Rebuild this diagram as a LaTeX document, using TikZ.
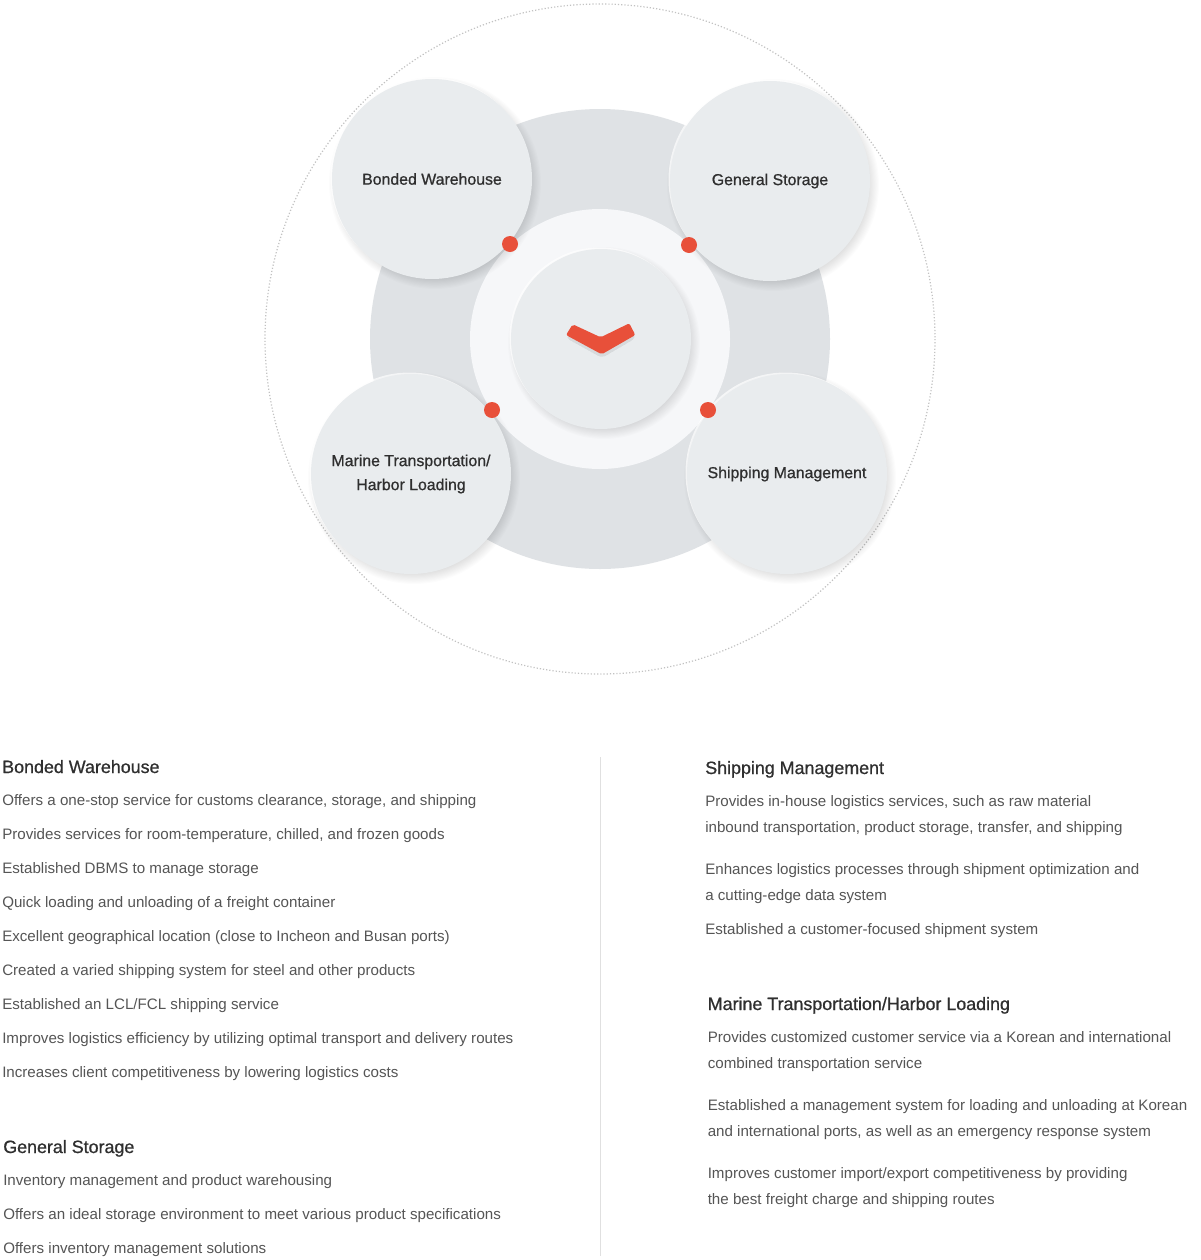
\documentclass[tikz,border=0pt]{standalone}
\usepackage{fontspec}
\setmainfont{Liberation Sans}
\newfontfamily\mediumfont[FakeBold=0.8]{Liberation Sans}
\usepackage{xcolor}
\definecolor{discfill}{HTML}{E9ECEE}
\definecolor{backfill}{HTML}{DFE2E5}
\definecolor{ringfill}{HTML}{F6F7F9}
\definecolor{dotred}{HTML}{E8503A}
\definecolor{headtext}{HTML}{2F2F2F}
\definecolor{bodytext}{HTML}{555555}
\newcommand{\softshadow}[3]{%
  \foreach \k in {0,...,9}
    \fill [black, opacity=0.013] (#1+3,#2+4) circle ({#3+6-1.1*\k});
  \fill [white, opacity=0.7] (#1-1.5,#2-1.5) circle (#3);
}
\tikzset{
  disc/.style={circle, fill=discfill, minimum size=150pt, inner sep=0pt, align=center, text=headtext, font=\fontsize{11.9}{18}\mediumfont},
  reddot/.style={circle, fill=dotred, minimum size=12pt, inner sep=0pt},
  headline/.style={anchor=base west, inner sep=0pt, text=headtext, font=\fontsize{13.4}{16}\mediumfont},
  bodyline/.style={anchor=base west, inner sep=0pt, text=bodytext, font=\fontsize{11.35}{14}\selectfont}
}
\begin{document}
\begin{tikzpicture}[x=0.75pt,y=0.75pt,yscale=-1,xscale=1]
    \useasboundingbox (0,0) rectangle (1200,1260);
    \fill [white] (0,0) rectangle (1200,1260);

    % rings
    \draw [black!24, line width=0.9pt, dash pattern=on 0.9pt off 1.5pt] (600,339) circle (335);
    \fill [backfill] (600,339) circle (230);
    \fill [ringfill] (600,339) circle (130);

    % middle disc with the chevron
    \softshadow{601}{339}{90}
    \node [disc, minimum size=135pt] (hub) at (601,339) {};
    \foreach \k in {0,...,5}
      \fill [black, opacity=0.012, rounded corners=3pt] (566,338) -- (573,327) -- (601,341) -- (630,326) -- (636,338) -- (602,358) -- cycle;
    \fill [dotred, rounded corners=1.5pt] (566,335) -- (572.7,324.3) -- (600.7,337.3) -- (629.3,323.3) -- (635.3,335) -- (601.7,354.3) -- cycle;

    % the four discs
    \softshadow{432}{179}{100}
    \node [disc] (bonded) at (432,179) {Bonded Warehouse};
    \softshadow{770}{181}{100}
    \node [disc] (general) at (770,181) {General Storage};
    \softshadow{411}{474}{100}
    \node [disc] (marine) at (411,474) {Marine Transportation/\\Harbor Loading};
    \softshadow{787}{474}{100}
    \node [disc] (shipping) at (787,474) {Shipping Management};

    \node [reddot] (dotbonded) at (510,244) {};
    \node [reddot] (dotgeneral) at (689,245) {};
    \node [reddot] (dotmarine) at (492,410) {};
    \node [reddot] (dotshipping) at (708,410) {};

    % divider
    \draw [black!12, line width=0.75pt] (600,757) -- (600,1256);

    % left column
    \node [headline] (headbonded) at (2,773) {Bonded Warehouse};
    \node [bodyline] (bonded1) at (2,805) {Offers a one-stop service for customs clearance, storage, and shipping};
    \node [bodyline] (bonded2) at (2,839) {Provides services for room-temperature, chilled, and frozen goods};
    \node [bodyline] (bonded3) at (2,873) {Established DBMS to manage storage};
    \node [bodyline] (bonded4) at (2,907) {Quick loading and unloading of a freight container};
    \node [bodyline] (bonded5) at (2,941) {Excellent geographical location (close to Incheon and Busan ports)};
    \node [bodyline] (bonded6) at (2,975) {Created a varied shipping system for steel and other products};
    \node [bodyline] (bonded7) at (2,1009) {Established an LCL/FCL shipping service};
    \node [bodyline] (bonded8) at (2,1043) {Improves logistics efficiency by utilizing optimal transport and delivery routes};
    \node [bodyline] (bonded9) at (2,1077) {Increases client competitiveness by lowering logistics costs};

    \node [headline] (headgeneral) at (3,1153) {General Storage};
    \node [bodyline] (general1) at (3,1185) {Inventory management and product warehousing};
    \node [bodyline] (general2) at (3,1219) {Offers an ideal storage environment to meet various product specifications};
    \node [bodyline] (general3) at (3,1253) {Offers inventory management solutions};

    % right column
    \node [headline] (headshipping) at (705,774) {Shipping Management};
    \node [bodyline] (shipping1) at (705,806) {Provides in-house logistics services, such as raw material};
    \node [bodyline] (shipping2) at (705,832) {inbound transportation, product storage, transfer, and shipping};
    \node [bodyline] (shipping3) at (705,874) {Enhances logistics processes through shipment optimization and};
    \node [bodyline] (shipping4) at (705,900) {a cutting-edge data system};
    \node [bodyline] (shipping5) at (705,934) {Established a customer-focused shipment system};

    \node [headline] (headmarine) at (707.5,1010) {Marine Transportation/Harbor Loading};
    \node [bodyline] (marine1) at (707.5,1042) {Provides customized customer service via a Korean and international};
    \node [bodyline] (marine2) at (707.5,1068) {combined transportation service};
    \node [bodyline] (marine3) at (707.5,1110) {Established a management system for loading and unloading at Korean};
    \node [bodyline] (marine4) at (707.5,1136) {and international ports, as well as an emergency response system};
    \node [bodyline] (marine5) at (707.5,1178) {Improves customer import/export competitiveness by providing};
    \node [bodyline] (marine6) at (707.5,1204) {the best freight charge and shipping routes};
\end{tikzpicture}
\end{document}
